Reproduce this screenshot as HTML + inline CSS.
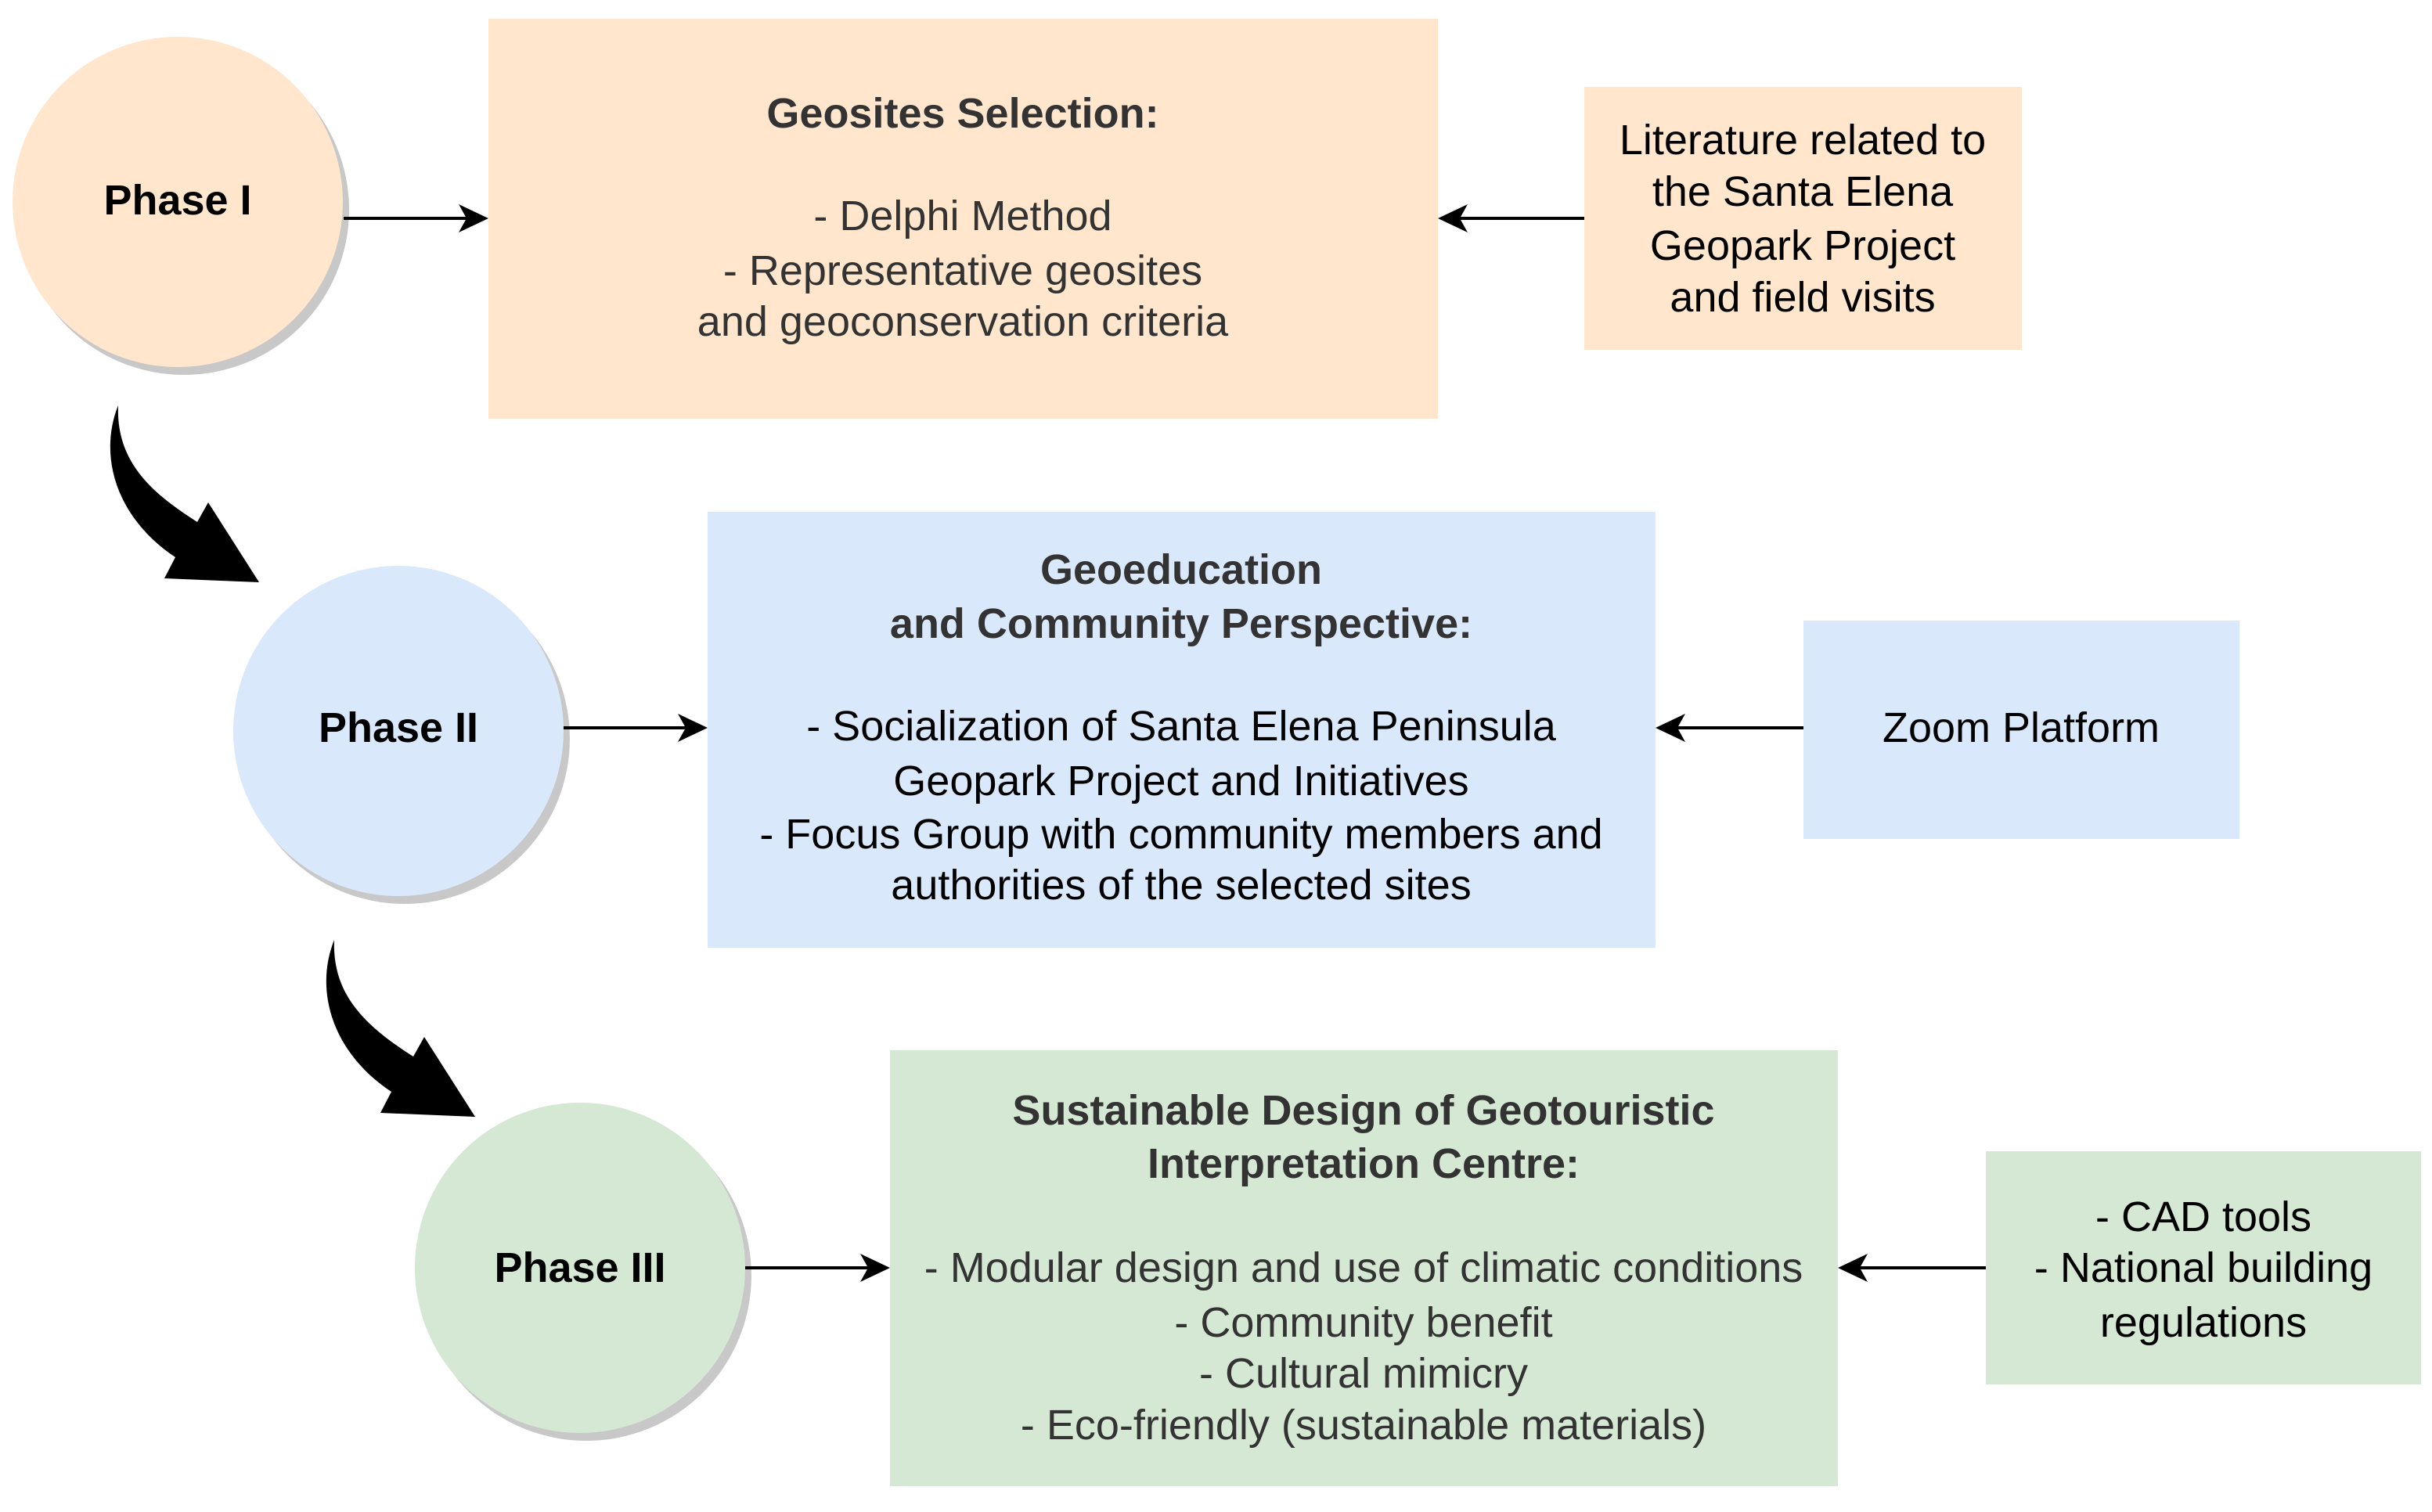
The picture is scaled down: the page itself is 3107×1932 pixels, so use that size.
<!DOCTYPE html>
<html><head><meta charset="utf-8"><style>
body{margin:0;width:3107px;height:1932px;background:#fff;position:relative;overflow:hidden;font-family:"Liberation Sans",Arial,Helvetica,sans-serif}
.b{position:absolute}
.t{position:absolute;white-space:nowrap;text-align:center;font-size:54px;line-height:60px;color:#333;transform:translateX(-50%);font-family:"Liberation Sans",Arial,Helvetica,sans-serif}
.bold{font-weight:bold}
.k{color:#000}
.c{position:absolute;border-radius:50%;box-shadow:8px 10px 0 #c8c8c8}
</style></head><body>
<div class="c" style="left:16px;top:47px;width:422px;height:422px;background:#ffe6cc"></div>
<div class="c" style="left:298px;top:723px;width:422px;height:422px;background:#dae8fc"></div>
<div class="c" style="left:530px;top:1409px;width:422px;height:422px;background:#d5e8d4"></div>
<div class="b" style="left:624px;top:24px;width:1213px;height:511px;background:#ffe6cc"></div>
<div class="b" style="left:2024px;top:111px;width:559px;height:336px;background:#ffe6cc"></div>
<div class="b" style="left:904px;top:654px;width:1211px;height:557px;background:#dae8fc"></div>
<div class="b" style="left:2304px;top:793px;width:557px;height:279px;background:#dae8fc"></div>
<div class="b" style="left:1137px;top:1342px;width:1211px;height:557px;background:#d5e8d4"></div>
<div class="b" style="left:2537px;top:1471px;width:556px;height:298px;background:#d5e8d4"></div>
<svg class="b" style="left:-2px;top:0" width="3107" height="1932">
<g stroke="#000" stroke-width="4" fill="none">
<line x1="441" y1="279" x2="600" y2="279"/><path d="M626,279 L588,261 L598,279 L588,297Z" fill="#000" stroke="none"/>
<line x1="2026" y1="279" x2="1865" y2="279"/><path d="M1839,279 L1877,261 L1867,279 L1877,297Z" fill="#000" stroke="none"/>
<line x1="722" y1="930" x2="880" y2="930"/><path d="M906,930 L868,912 L878,930 L868,948Z" fill="#000" stroke="none"/>
<line x1="2306" y1="930" x2="2143" y2="930"/><path d="M2117,930 L2155,912 L2145,930 L2155,948Z" fill="#000" stroke="none"/>
<line x1="954" y1="1620" x2="1113" y2="1620"/><path d="M1139,1620 L1101,1602 L1111,1620 L1101,1638Z" fill="#000" stroke="none"/>
<line x1="2539" y1="1620" x2="2376" y2="1620"/><path d="M2350,1620 L2388,1602 L2378,1620 L2388,1638Z" fill="#000" stroke="none"/>
</g>
<path id="ca" d="M153,518 C128,580 148,660 226,712 L212,739 L333,744 L268,642 L254,667 C196,630 150,590 153,518 Z" fill="#000"/>
<use href="#ca" transform="translate(276,683)"/>
</svg>
<div class="t bold k" style="left:227px;top:226px">Phase I</div>
<div class="t bold k" style="left:509px;top:900px">Phase II</div>
<div class="t bold k" style="left:741px;top:1590px">Phase III</div>
<div class="t bold" style="left:1230px;top:115px">Geosites Selection:</div>
<div class="t" style="left:1230px;top:246px">- Delphi Method</div>
<div class="t" style="left:1230px;top:316px">- Representative geosites</div>
<div class="t" style="left:1230px;top:381px">and geoconservation criteria</div>
<div class="t k" style="left:2303px;top:149px">Literature related to</div>
<div class="t k" style="left:2303px;top:215px">the Santa Elena</div>
<div class="t k" style="left:2303px;top:284px">Geopark Project</div>
<div class="t k" style="left:2303px;top:350px">and field visits</div>
<div class="t bold" style="left:1509px;top:698px">Geoeducation</div>
<div class="t bold" style="left:1509px;top:767px">and Community Perspective:</div>
<div class="t k" style="left:1509px;top:898px">- Socialization of Santa Elena Peninsula</div>
<div class="t k" style="left:1509px;top:968px">Geopark Project and Initiatives</div>
<div class="t k" style="left:1509px;top:1036px">- Focus Group with community members and</div>
<div class="t k" style="left:1509px;top:1101px">authorities of the selected sites</div>
<div class="t k" style="left:2582px;top:900px">Zoom Platform</div>
<div class="t bold" style="left:1742px;top:1389px">Sustainable Design of Geotouristic</div>
<div class="t bold" style="left:1742px;top:1457px">Interpretation Centre:</div>
<div class="t" style="left:1742px;top:1590px">- Modular design and use of climatic conditions</div>
<div class="t" style="left:1742px;top:1660px">- Community benefit</div>
<div class="t" style="left:1742px;top:1725px">- Cultural mimicry</div>
<div class="t" style="left:1742px;top:1791px">- Eco-friendly (sustainable materials)</div>
<div class="t k" style="left:2815px;top:1525px">- CAD tools</div>
<div class="t k" style="left:2815px;top:1590px">- National building</div>
<div class="t k" style="left:2815px;top:1660px">regulations</div>
</body></html>
